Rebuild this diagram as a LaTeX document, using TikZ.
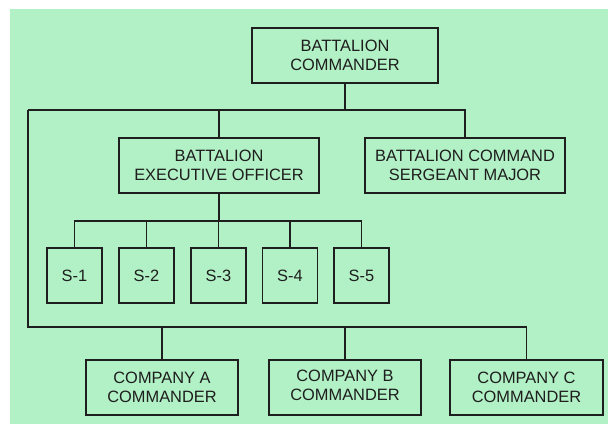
\documentclass[tikz,border=0pt]{standalone}
\usepackage{fontspec}
\setmainfont{Liberation Sans}
\definecolor{bggreen}{RGB}{178,240,197}
\definecolor{ink}{RGB}{30,30,30}
\begin{document}
\begin{tikzpicture}[x=1pt,y=-1pt,
  box/.style={draw=ink,line width=1.6pt,inner sep=0pt,align=center,minimum height=55pt,
    font=\fontsize{16.4}{19}\selectfont,text=ink},
  link/.style={draw=ink,line width=1.2pt}]
\useasboundingbox (0,0) rectangle (608,424);
\fill[bggreen] (10,9) rectangle (608,424);
\node[box,minimum width=186pt] (bc) at (345,55.5) {BATTALION\\COMMANDER};
\node[box,minimum width=200pt] (xo) at (219,165.5) {BATTALION\\EXECUTIVE OFFICER};
\node[box,minimum width=200pt] (csm) at (465,165.5) {BATTALION COMMAND\\SERGEANT MAJOR};
\node[box,minimum width=55pt] (s1) at (74.5,275.5) {S-1};
\node[box,minimum width=55pt] (s2) at (146.5,275.5) {S-2};
\node[box,minimum width=55pt] (s3) at (218.5,275.5) {S-3};
\node[box,minimum width=55pt] (s4) at (290,275.5) {S-4};
\node[box,minimum width=55pt] (s5) at (361.5,275.5) {S-5};
\node[box,minimum width=152pt] (ca) at (162,387.5) {COMPANY A\\COMMANDER};
\node[box,minimum width=152pt] (cb) at (345,387.5) {\raisebox{3pt}{\begin{tabular}{@{}c@{}}COMPANY B\\COMMANDER\end{tabular}}};
\node[box,minimum width=153pt] (cc) at (526.5,387.5) {COMPANY C\\COMMANDER};
\coordinate (jt) at (345,110);
\coordinate (lc) at (28,110);
\coordinate (bl) at (28,327);
\coordinate (sj) at (219,221);
\draw[link] (bc.south) -- (jt);
\draw[link] (lc) -| (csm.north);
\draw[link] (xo.north) -- (xo.north |- jt);
\draw[link] (lc) -- (bl) -| (cc.north);
\draw[link] (ca.north) -- (ca.north |- bl);
\draw[link] (cb.north) -- (cb.north |- bl);
\draw[link] (xo.south) -- (sj);
\draw[link] (s1.north) |- (sj) -| (s5.north);
\draw[link] (s2.north) -- (s2.north |- sj);
\draw[link] (s3.north) -- (s3.north |- sj);
\draw[link] (s4.north) -- (s4.north |- sj);
\end{tikzpicture}
\end{document}
